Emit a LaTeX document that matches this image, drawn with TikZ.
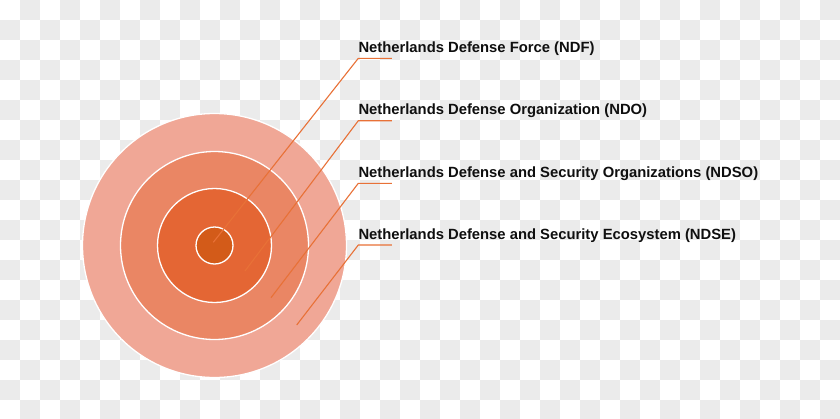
\documentclass[tikz,border=0pt]{standalone}
\usepackage{fontspec}
\setmainfont{Liberation Sans}
\definecolor{checkgray}{RGB}{235,235,235}
\definecolor{ringfour}{RGB}{240,167,150}
\definecolor{ringthree}{RGB}{234,134,100}
\definecolor{ringtwo}{RGB}{228,102,52}
\definecolor{ringone}{RGB}{211,91,25}
\definecolor{leadcol}{RGB}{232,113,55}
\definecolor{labcol}{RGB}{15,15,15}
\begin{document}
\begin{tikzpicture}[x=1pt,y=-1pt,
	ring/.style={fill=#1,draw=white,line width=1.3pt},
	lead/.style={draw=leadcol,line width=1.1pt},
	lab/.style={anchor=base west,inner sep=0pt,text=labcol,font=\fontsize{14.8}{16}\selectfont\bfseries}]
		\useasboundingbox (0,0) rectangle (840,418);
		\fill[white] (0,0) rectangle (840,418);
		\foreach \j in {0,...,20}
			\foreach \i in {0,...,20}{
				\pgfmathtruncatemacro{\col}{2*\i+mod(\j+1,2)}
				\fill[checkgray] (20*\col,20*\j) rectangle ++(20,20);
			}
		\coordinate (c) at (214.5,245.5);
		\draw[ring=ringfour] (c) circle[radius=132];
		\draw[ring=ringthree] (c) circle[radius=94];
		\draw[ring=ringtwo] (c) circle[radius=57];
		\draw[ring=ringone] (c) circle[radius=18.5];
		\node[lab] (ndf) at (358.3,52.3) {Netherlands Defense Force (NDF)};
		\node[lab] (ndo) at (358.3,114.7) {Netherlands Defense Organization (NDO)};
		\node[lab] (ndso) at (358.3,177.3) {Netherlands Defense and Security Organizations (NDSO)};
		\node[lab] (ndse) at (358.3,239) {Netherlands Defense and Security Ecosystem (NDSE)};
		\coordinate (ndf-in) at (213.3,242.3);
		\coordinate (ndo-in) at (245,271);
		\coordinate (ndso-in) at (271,297.7);
		\coordinate (ndse-in) at (296.7,325);
		\foreach \n in {ndf,ndo,ndso,ndse}
			\draw[lead] (\n-in) -- ([yshift=-6pt]\n.base west) -- ++(33.5,0);
	\end{tikzpicture}
\end{document}
